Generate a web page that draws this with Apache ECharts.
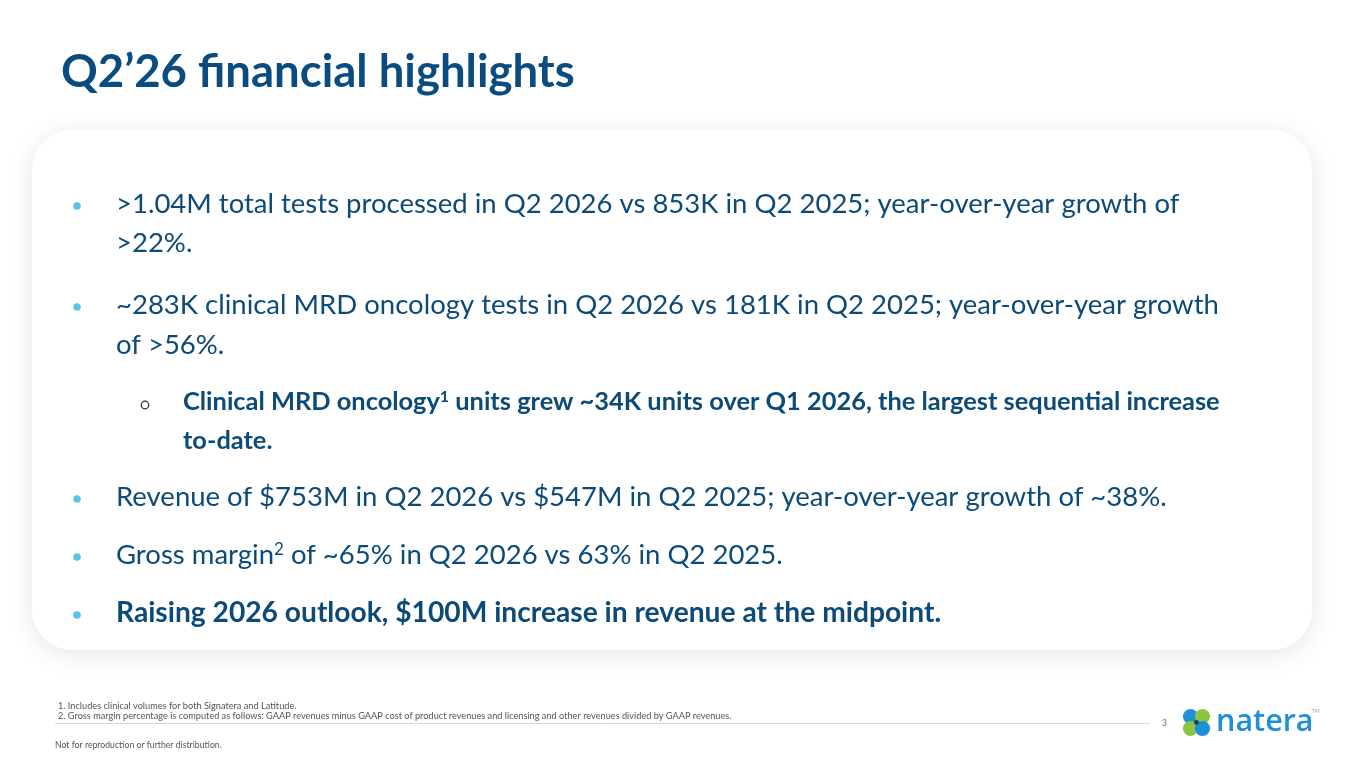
<!DOCTYPE html>
<html>
<head>
<meta charset="utf-8">
<title>Q2'26 financial highlights</title>
<script src="https://cdn.jsdelivr.net/npm/echarts@6/dist/echarts.min.js"></script>
<style>
  html, body { margin: 0; padding: 0; background: #fff; }
  #slide { width: 1365px; height: 768px; }
</style>
</head>
<body>
<div id="slide"></div>
<script>
// 幻灯片内容
const titleText = 'Q2\u201926 financial highlights';

// 每一行: 层级, 是否显示项目符号, 是否粗体, 文本(含上标标记)
const bulletLevels = [1, 1, 1, 1, 2, 2, 1, 1, 1];
const bulletMarks  = [true, false, true, false, true, false, true, true, true];
const bulletBold   = [false, false, false, false, true, true, false, false, true];
const bulletLines  = [
    '>1.04M total tests processed in Q2 2026 vs 853K in Q2 2025; year-over-year growth of',
    '>22%.',
    '~283K clinical MRD oncology tests in Q2 2026 vs 181K in Q2 2025; year-over-year growth',
    'of >56%.',
    'Clinical MRD oncology{sup|1} units grew ~34K units over Q1 2026, the largest sequential increase',
    'to-date.',
    'Revenue of $753M in Q2 2026 vs $547M in Q2 2025; year-over-year growth of ~38%.',
    'Gross margin{sup|2} of ~65% in Q2 2026 vs 63% in Q2 2025.',
    'Raising 2026 outlook, $100M increase in revenue at the midpoint.'
];
// 行中心的纵向位置
const bulletRows = [204, 243, 305, 345, 402, 441, 497, 555, 613];

const footnotes = [
    '1. Includes clinical volumes for both Signatera and Latitude.',
    '2. Gross margin percentage is computed as follows: GAAP revenues minus GAAP cost of product revenues and licensing and other revenues divided by GAAP revenues.'
];
const pageNumber = '3';
const disclaimer = 'Not for reproduction or further distribution.';
const logoText = 'natera';

const NAVY = '#0c4a78';
const TITLE = '#0b4c80';
const CYAN = '#5bc2e7';
const FONT = 'Lato, "Open Sans", sans-serif';

let slideChart;

function buildBullets() {
    const items = [];
    bulletLines.forEach((line, i) => {
        const level = bulletLevels[i];
        const bold = bulletBold[i];
        let size = level === 1 ? 27.5 : 25.4;
        if (level === 1 && bold) size = 28.2;
        const x = level === 1 ? 116 : 183;
        const y = bulletRows[i];
        if (bulletMarks[i]) {
            if (level === 1) {
                items.push({
                    type: 'circle',
                    shape: { cx: 77, cy: y + 2, r: 3.8 },
                    style: { fill: CYAN }
                });
            } else {
                items.push({
                    type: 'circle',
                    shape: { cx: 145, cy: y + 3, r: 3.8 },
                    style: { fill: 'none', stroke: '#222', lineWidth: 1.2 }
                });
            }
        }
        items.push({
            type: 'text',
            x: x,
            y: y,
            style: {
                text: line,
                fill: NAVY,
                font: (bold ? 'bold ' : '') + size + 'px ' + FONT,
                verticalAlign: 'middle',
                rich: {
                    sup: {
                        fontSize: Math.round(size * 0.62),
                        fontWeight: bold ? 'bold' : 'normal',
                        fontFamily: FONT,
                        fill: NAVY,
                        verticalAlign: 'top',
                        padding: [0, 0, 11, 0]
                    }
                }
            }
        });
    });
    return items;
}

function buildLogo() {
    const blue = '#1f8fd9';
    const green = '#8cc540';
    const cx = 1196.5, cy = 722.5, d = 6, r = 7.6;
    return [
        { type: 'circle', shape: { cx: cx - d, cy: cy - d, r: r }, style: { fill: blue } },
        { type: 'circle', shape: { cx: cx + d, cy: cy - d, r: r }, style: { fill: green } },
        { type: 'circle', shape: { cx: cx - d, cy: cy + d, r: r }, style: { fill: green } },
        { type: 'circle', shape: { cx: cx + d, cy: cy + d, r: r }, style: { fill: blue } },
        { type: 'circle', shape: { cx: cx, cy: cy, r: 2.4 }, style: { fill: '#0f3f6a' } },
        {
            type: 'text', x: 1216, y: 722,
            style: { text: logoText, fill: blue, font: '600 30.5px "Open Sans", sans-serif', verticalAlign: 'middle' }
        },
        {
            type: 'text', x: 1312, y: 711,
            style: { text: 'TM', fill: '#9aa', font: '5px ' + FONT, verticalAlign: 'middle' }
        }
    ];
}

function buildFooter() {
    return [
        {
            type: 'text', x: 58, y: 706,
            style: { text: footnotes[0], fill: '#555', font: '9.2px ' + FONT, verticalAlign: 'middle' }
        },
        {
            type: 'text', x: 58, y: 716.5,
            style: { text: footnotes[1], fill: '#555', font: '9.2px ' + FONT, verticalAlign: 'middle' }
        },
        {
            type: 'line', shape: { x1: 55, y1: 723.5, x2: 1150, y2: 723.5 },
            style: { stroke: '#d9d9d9', lineWidth: 1 }
        },
        {
            type: 'text', x: 1162, y: 723,
            style: { text: pageNumber, fill: '#666', font: '8.5px ' + FONT, verticalAlign: 'middle' }
        },
        {
            type: 'text', x: 55, y: 745,
            style: { text: disclaimer, fill: '#555', font: '8.7px ' + FONT, verticalAlign: 'middle' }
        }
    ];
}

function init() {
    slideChart = echarts.init(document.getElementById('slide'), null, { renderer: 'canvas' });
    const elements = [
        {
            type: 'text', x: 61, y: 72,
            style: { text: titleText, fill: TITLE, font: 'bold 45.5px ' + FONT, verticalAlign: 'middle' }
        },
        {
            type: 'rect',
            shape: { x: 32, y: 130, width: 1280, height: 520, r: 40 },
            style: { fill: '#fff', shadowBlur: 26, shadowColor: 'rgba(0,0,0,0.10)', shadowOffsetY: 4 }
        }
    ].concat(buildBullets(), buildFooter(), buildLogo());

    slideChart.setOption({
        animation: false,
        backgroundColor: '#fff',
        graphic: { elements: elements }
    });
}

document.addEventListener('DOMContentLoaded', init);
</script>
</body>
</html>
